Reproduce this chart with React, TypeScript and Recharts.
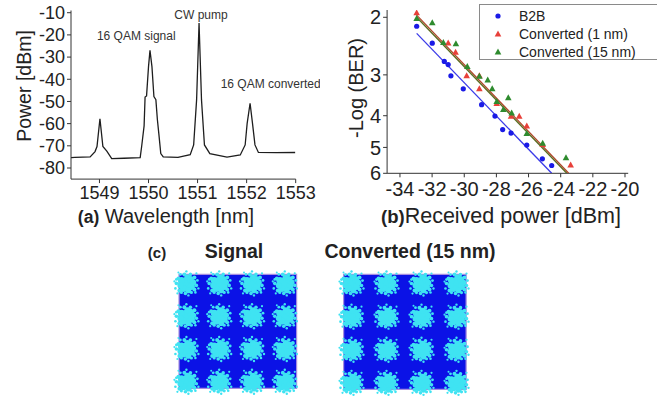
import React from 'react';
import {
  LineChart, Line, XAxis, YAxis, ScatterChart, Scatter, ReferenceArea, ReferenceDot, Legend,
} from 'recharts';

const FONT = '"Liberation Sans", Arial, Helvetica, sans-serif';
const INK = '#222';

// ---------- Panel (a): optical spectrum ----------
const wavelengthNm = [
  1548.42, 1548.5, 1548.81, 1548.91, 1548.95, 1549.01, 1549.07, 1549.15, 1549.25, 1549.5,
  1549.83, 1549.86, 1549.91, 1549.93, 1549.96, 1550.0, 1550.03, 1550.07, 1550.11, 1550.15,
  1550.18, 1550.21, 1550.25, 1550.3, 1550.6, 1550.85, 1550.92, 1550.98, 1551.03, 1551.08,
  1551.14, 1551.25, 1551.6, 1551.87, 1551.97, 1552.01, 1552.07, 1552.12, 1552.17, 1552.24,
  1552.6, 1552.99,
];
const powerDbm = [
  -75.3, -75.2, -75.0, -72.6, -70.3, -57.8, -70.3, -72.4, -75.8, -75.6,
  -75.3, -70.3, -61.0, -48.0, -47.5, -34.3, -27.0, -34.3, -47.8, -49.2,
  -58.0, -64.5, -73.5, -75.0, -75.2, -74.0, -69.6, -49.3, -14.6, -49.3,
  -69.6, -73.5, -75.1, -74.1, -69.6, -60.0, -50.8, -60.0, -69.6, -73.0,
  -73.1, -73.0,
];
const wlTicks = [1549, 1550, 1551, 1552, 1553];
const powerTicks = [-80, -70, -60, -50, -40, -30, -20, -10];
const peakNames = ['16 QAM signal', 'CW pump', '16 QAM converted'];
const peakLabelWl = [1549.75, 1551.07, 1552.49];
const peakLabelDbm = [-20.6, -10.8, -41.8];

const spectrum = wavelengthNm.map((wl, i) => ({ wl, p: powerDbm[i] }));

// ---------- Panel (b): BER curves ----------
const seriesNames = ['B2B', 'Converted (1 nm)', 'Converted (15 nm)'];
const seriesColors = ['#1a1ae6', '#e8403a', '#2e8b2e'];
const fitColors = ['#3a3ae8', '#b0452a', '#5a6a1e'];

const b2bPower = [-32.96, -31.99, -31.24, -31.0, -30.83, -30.06, -28.92, -28.09, -27.61, -27.09, -26.11, -25.14, -24.56];
const b2bLogBer = [2.13, 2.40, 2.73, 2.79, 3.02, 3.31, 3.70, 4.01, 4.41, 4.52, 4.92, 5.42, 5.68];
const conv1Power = [-32.96, -31.0, -30.54, -29.85, -29.06, -29.06, -27.98, -27.09, -26.58, -26.11, -25.12, -23.38];
const conv1LogBer = [1.94, 2.40, 2.56, 3.02, 3.02, 3.31, 3.67, 4.02, 4.02, 4.30, 4.90, 5.66];
const conv15Power = [-32.96, -31.99, -31.3, -30.52, -29.81, -29.06, -28.54, -28.26, -27.98, -27.57, -27.26, -27.05, -26.11, -25.12, -23.67];
const conv15LogBer = [2.02, 2.08, 2.39, 2.41, 2.83, 3.03, 3.11, 3.31, 3.62, 3.83, 3.53, 3.93, 4.54, 4.86, 5.38];

const b2bFitPower = [-32.96, -24.56];
const b2bFitLogBer = [2.24, 6.0];
const conv1FitPower = [-32.96, -23.5];
const conv1FitLogBer = [1.97, 6.0];
const conv15FitPower = [-32.96, -23.62];
const conv15FitLogBer = [2.0, 6.0];

const rxTicks = [-34, -32, -30, -28, -26, -24, -22, -20];
const berTicks = [2, 3, 4, 5, 6];

const zip = (xs: number[], ys: number[]) => xs.map((x, i) => ({ x, y: ys[i] }));
const b2bData = zip(b2bPower, b2bLogBer);
const conv1Data = zip(conv1Power, conv1LogBer);
const conv15Data = zip(conv15Power, conv15LogBer);
const b2bFit = zip(b2bFitPower, b2bFitLogBer);
const conv1Fit = zip(conv1FitPower, conv1FitLogBer);
const conv15Fit = zip(conv15FitPower, conv15FitLogBer);

// ---------- Panel (c): 16-QAM constellations ----------
const constTitles = ['Signal', 'Converted (15 nm)'];
const symbolI = [-3, -1, 1, 3, -3, -1, 1, 3, -3, -1, 1, 3, -3, -1, 1, 3];
const symbolQ = [3, 3, 3, 3, 1, 1, 1, 1, -1, -1, -1, -1, -3, -3, -3, -3];
const constellation = zip(symbolI, symbolQ);

// fuzzy blob pattern used to draw each noisy constellation cluster (style only)
const BLOB: [number, number, number][] = [
  [0, 0, 6.5], [-5, -3, 3.5], [4, -4, 3.5], [-3, 5, 3.5], [5, 3, 3.5], [1, -6, 3], [-6, 2, 3],
  [7, -1, 2.8], [2, 7, 2.8], [-8, -5, 2], [8, -6, 2], [-7, 7, 2], [8, 6, 2], [-2, -9, 2],
  [4, -9, 1.8], [-10, 0, 1.8], [10, 2, 1.8], [-1, 10, 1.8], [5, 9, 1.6], [-5, 9, 1.6],
  [-10, -4, 1.4], [11, -3, 1.4], [-6, -9, 1.4], [9, 9, 1.3], [-11, 5, 1.3], [0, -12, 1.2],
  [12, 5, 1.2], [2, 12, 1.2], [-12, -2, 1.1], [10, -10, 1.1], [-9, 10, 1.1], [-8, -11, 1.0],
];

const ClusterShape = (props: any) => {
  const { cx, cy } = props;
  if (cx == null || cy == null) return <g />;
  return (
    <g>
      {BLOB.map(([dx, dy, r], i) => (
        <circle key={i} cx={cx + dx} cy={cy + dy} r={r} fill="#3fe3f2" />
      ))}
    </g>
  );
};

const CircleShape = (color: string) => (props: any) => {
  const { cx, cy } = props;
  if (cx == null || cy == null) return <g />;
  return <circle cx={cx} cy={cy} r={2.6} fill={color} />;
};

const TriangleShape = (color: string) => (props: any) => {
  const { cx, cy } = props;
  if (cx == null || cy == null) return <g />;
  return <path d={`M${cx},${cy - 3.6} L${cx + 3.3},${cy + 2.4} L${cx - 3.3},${cy + 2.4} Z`} fill={color} />;
};

const NoShape = () => <g />;

const BerLegend = () => (
  <div
    style={{
      width: 200, height: 56, boxSizing: 'border-box', border: '1px solid #8a8a8a', background: '#fff',
      fontFamily: FONT, fontSize: 14, color: INK, position: 'relative',
    }}
  >
    {seriesNames.map((name, i) => (
      <div key={name} style={{ position: 'absolute', left: 0, top: 2 + i * 18, height: 18, lineHeight: '18px', whiteSpace: 'nowrap' }}>
        <svg width={30} height={18} style={{ position: 'absolute', left: 8, top: 0 }}>
          {i === 0 ? (
            <circle cx={10} cy={9} r={2.6} fill={seriesColors[i]} />
          ) : (
            <path d="M10,5.4 L13.3,11.4 L6.7,11.4 Z" fill={seriesColors[i]} />
          )}
        </svg>
        <span style={{ position: 'absolute', left: 39, top: 0 }}>{name}</span>
      </div>
    ))}
  </div>
);

export default function App() {
  const tickA = { fontSize: 18, fill: INK, fontFamily: FONT };
  const tickB = { fontSize: 20, fill: INK, fontFamily: FONT };
  return (
    <div
      style={{
        position: 'absolute', left: 0, top: 0, width: 657, height: 401, overflow: 'hidden',
        background: '#fff', fontFamily: FONT,
      }}
    >
      {/* Panel (a) */}
      <div style={{ position: 'absolute', left: 0, top: 0 }}>
        <LineChart width={320} height={230} data={spectrum} margin={{ top: 10.5, right: 24.3, bottom: 0, left: 0 }}>
          <XAxis
            type="number" dataKey="wl" domain={[1548.42, 1553]} ticks={wlTicks} allowDataOverflow interval={0}
            tick={tickA} tickSize={4} tickMargin={3} height={50.9} stroke="#333"
            label={() => (
              <text x={166} y={222.5} textAnchor="middle" fill={INK} fontFamily={FONT}>
                <tspan fontWeight="bold" fontSize={17.5}>(a)</tspan>
                <tspan fontSize={20}> Wavelength [nm]</tspan>
              </text>
            )}
          />
          <YAxis
            type="number" domain={[-85, -9]} ticks={powerTicks} allowDataOverflow interval={0}
            tick={tickA} tickSize={4} tickMargin={2} width={71} stroke="#333"
            label={() => (
              <text x={24} y={86} transform="rotate(-90 24 86)" textAnchor="middle" dominantBaseline="central"
                fontSize={19.5} fill={INK} fontFamily={FONT}>Power [dBm]</text>
            )}
          />
          <Line type="linear" dataKey="p" stroke="#1e1e1e" strokeWidth={1.3} dot={false} isAnimationActive={false} />
          {peakNames.map((name, i) => (
            <ReferenceDot
              key={name} x={peakLabelWl[i]} y={peakLabelDbm[i]} r={0} fill="none" stroke="none" ifOverflow="visible"
              label={{ value: name, position: 'center', fontSize: 12, fill: '#333', fontFamily: FONT }}
            />
          ))}
        </LineChart>
      </div>

      {/* Panel (b) */}
      <div style={{ position: 'absolute', left: 320, top: 0 }}>
        <ScatterChart width={337} height={230} margin={{ top: 10, right: 28.8, bottom: 0, left: 0 }}>
          <XAxis
            type="number" dataKey="x" domain={[-34.8, -19.8]} ticks={rxTicks} allowDataOverflow
            tick={tickB} tickSize={4} tickMargin={4} height={56.7} stroke="#333" interval={0}
            label={() => (
              <text x={181} y={223} textAnchor="middle" fill={INK} fontFamily={FONT}>
                <tspan fontWeight="bold" fontSize={18.5}>(b)</tspan>
                <tspan fontSize={21.5}>Received power [dBm]</tspan>
              </text>
            )}
          />
          <YAxis
            type="number" dataKey="y" scale="log" domain={[1.9, 6]} ticks={berTicks} reversed allowDataOverflow
            tick={tickB} tickSize={4} tickMargin={2} width={67.1} stroke="#333" interval={0}
            label={() => (
              <text x={35.5} y={88} transform="rotate(-90 35.5 88)" textAnchor="middle" dominantBaseline="central"
                fontSize={20} fill={INK} fontFamily={FONT}>-Log (BER)</text>
            )}
          />
          <Scatter name="B2B fit" data={b2bFit} line={{ stroke: fitColors[0], strokeWidth: 1.3 }} shape={NoShape} legendType="none" isAnimationActive={false} />
          <Scatter name="1 nm fit" data={conv1Fit} line={{ stroke: fitColors[1], strokeWidth: 1.3 }} shape={NoShape} legendType="none" isAnimationActive={false} />
          <Scatter name="15 nm fit" data={conv15Fit} line={{ stroke: fitColors[2], strokeWidth: 1.3 }} shape={NoShape} legendType="none" isAnimationActive={false} />
          <Scatter name={seriesNames[0]} data={b2bData} shape={CircleShape(seriesColors[0])} isAnimationActive={false} />
          <Scatter name={seriesNames[1]} data={conv1Data} shape={TriangleShape(seriesColors[1])} isAnimationActive={false} />
          <Scatter name={seriesNames[2]} data={conv15Data} shape={TriangleShape(seriesColors[2])} isAnimationActive={false} />
          <Legend
            layout="vertical" align="center" verticalAlign="middle"
            wrapperStyle={{ left: 159, top: 4, width: 200, height: 56 }}
            content={() => <BerLegend />}
          />
        </ScatterChart>
      </div>

      {/* Panel (c) titles */}
      <svg width={657} height={401} style={{ position: 'absolute', left: 0, top: 0, pointerEvents: 'none' }}>
        <text x={157} y={258} textAnchor="middle" fontSize={15} fontWeight="bold" fill={INK} fontFamily={FONT}>(c)</text>
        <text x={234} y={258} textAnchor="middle" fontSize={19.5} fontWeight="bold" fill={INK} fontFamily={FONT}>{constTitles[0]}</text>
        <text x={410} y={258} textAnchor="middle" fontSize={19.5} fontWeight="bold" fill={INK} fontFamily={FONT}>{constTitles[1]}</text>
      </svg>

      {/* Panel (c) constellations */}
      <div style={{ position: 'absolute', left: 170.4, top: 267.4 }}>
        <ScatterChart width={131.2} height={131.2} margin={{ top: 0, right: 0, bottom: 0, left: 0 }}>
          <XAxis type="number" dataKey="x" domain={[-4, 4]} hide />
          <YAxis type="number" dataKey="y" domain={[-4, 4]} hide />
          <ReferenceArea x1={-3.45} x2={3.72} y1={-3.4} y2={3.55} fill="#0b12e6" fillOpacity={1} stroke="#a58ce0" strokeWidth={1.2} ifOverflow="visible" />
          <Scatter data={constellation} shape={ClusterShape} isAnimationActive={false} />
        </ScatterChart>
      </div>
      <div style={{ position: 'absolute', left: 334.2, top: 266.8 }}>
        <ScatterChart width={140} height={132.4} margin={{ top: 0, right: 0, bottom: 0, left: 0 }}>
          <XAxis type="number" dataKey="x" domain={[-4, 4]} hide />
          <YAxis type="number" dataKey="y" domain={[-4, 4]} hide />
          <ReferenceArea x1={-3.45} x2={3.55} y1={-3.4} y2={3.55} fill="#0b12e6" fillOpacity={1} stroke="#a58ce0" strokeWidth={1.2} ifOverflow="visible" />
          <Scatter data={constellation} shape={ClusterShape} isAnimationActive={false} />
        </ScatterChart>
      </div>
    </div>
  );
}
